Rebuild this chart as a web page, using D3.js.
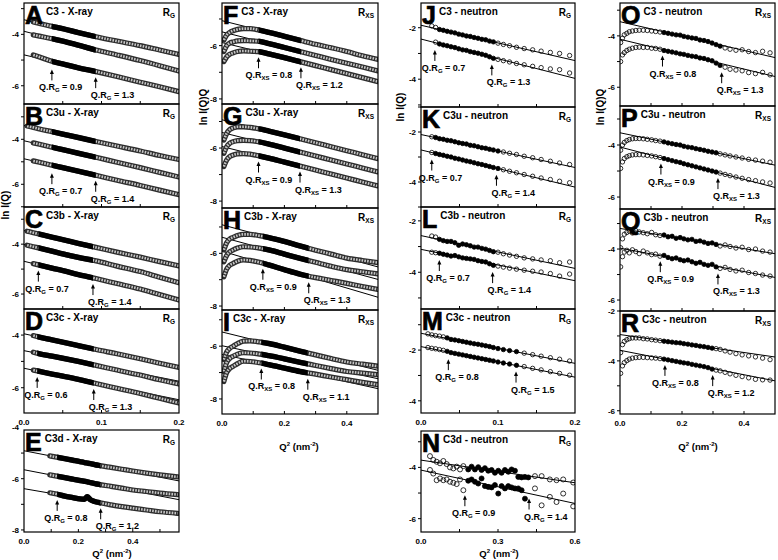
<!DOCTYPE html>
<html><head><meta charset="utf-8">
<script src="https://cdn.jsdelivr.net/npm/d3@7"></script>
<style>
body{margin:0;background:#fff;}
svg{display:block;font-family:"Liberation Sans",Arial,sans-serif;font-weight:bold;}
</style></head><body>
<svg id="chart" width="778" height="560"></svg>
<script>
// ---------------- DATA ----------------
const panelIds = ["A","B","C","D","E","F","G","H","I","J","K","L","M","N","O","P","Q","R"];
const panelTitles = ["C3 - X-ray","C3u - X-ray","C3b - X-ray","C3c - X-ray","C3d - X-ray",
  "C3 - X-ray","C3u - X-ray","C3b - X-ray","C3c - X-ray",
  "C3 - neutron","C3u - neutron","C3b - neutron","C3c - neutron","C3d - neutron",
  "C3 - neutron","C3u - neutron","C3b - neutron","C3c - neutron"];
const panelRadius = ["G","G","G","G","G","XS","XS","XS","XS","G","G","G","G","G","XS","XS","XS","XS"];
const qrLow  = ["0.9","0.7","0.7","0.6","0.8","0.8","0.9","0.9","0.8","0.7","0.7","0.7","0.8","0.9","0.8","0.9","0.9","0.8"];
const qrHigh = ["1.3","1.4","1.4","1.3","1.2","1.2","1.3","1.3","1.1","1.3","1.4","1.4","1.5","1.4","1.3","1.3","1.3","1.2"];
const arrowLow  = [0.036,0.036,0.0185,0.017,0.122, 0.117,0.117,0.131,0.126, 0.018,0.014,0.0238,0.0355,0.171, 0.137,0.132,0.13,0.145];
const arrowHigh = [0.0925,0.0925,0.089,0.09,0.282, 0.253,0.25,0.278,0.275, 0.092,0.098,0.093,0.1234,0.421, 0.328,0.316,0.316,0.299];
const fitLow  = [0.036,0.036,0.0185,0.017,0.122, 0.117,0.117,0.131,0.126, 0.022,0.018,0.022,0.033,0.175, 0.135,0.13,0.13,0.14];
const fitHigh = [0.0925,0.0925,0.089,0.09,0.282, 0.253,0.25,0.278,0.275, 0.095,0.1,0.095,0.125,0.42, 0.33,0.32,0.32,0.30];

// Q^2 grids (nm^-2)
const qRG = [0.004,0.012,0.02,0.036,0.05,0.07,0.093,0.12,0.15,0.175,0.2];
const qE  = [0.095,0.12,0.15,0.18,0.205,0.222,0.233,0.244,0.26,0.28,0.32,0.36,0.4,0.45,0.5,0.565];
const qXS = [0.006,0.015,0.025,0.036,0.05,0.069,0.09,0.12,0.15,0.2,0.25,0.3,0.35,0.4,0.45,0.5];
const qN1 = [0.009,0.014,0.019,0.024,0.029,0.034,0.039,0.044,0.049,0.054,0.059,0.064,0.069,0.074,0.079,0.084,0.089,0.094,0.100,0.107,0.115,0.124,0.134,0.145,0.156,0.168,0.180,0.193];
const qN2 = [0.035,0.048,0.061,0.074,0.087,0.100,0.113,0.126,0.139,0.152,0.165,0.184,0.197,0.210,0.223,0.236,0.249,0.262,0.275,0.288,0.301,0.314,0.327,0.340,0.353,0.366,0.379,0.392,0.405,0.418,0.444,0.470,0.502,0.528,0.554,0.593];
const qN3 = [0.002,0.008,0.014,0.022,0.030,0.040,0.051,0.062,0.075,0.088,0.102,0.115,0.129,0.142,0.155,0.168,0.181,0.194,0.206,0.219,0.232,0.245,0.258,0.271,0.284,0.297,0.310,0.323,0.339,0.355,0.374,0.394,0.415,0.437,0.460,0.484];

// ln I(Q) or ln I(Q)Q values
const seriesA = [
  [null,-3.52,-3.58,-3.69,-3.78,-3.93,-4.09,-4.26,-4.44,-4.61,-4.78],
  [null,-4.02,-4.07,-4.17,-4.26,-4.42,-4.61,-4.8,-5.02,-5.22,-5.43],
  [null,-4.8,-4.88,-5.05,-5.15,-5.3,-5.45,-5.64,-5.86,-6.04,-6.23]];
const seriesB = [
  [-3.41,-3.47,-3.54,-3.66,-3.77,-3.92,-4.1,-4.3,-4.52,-4.72,-4.9],
  [null,-4.16,-4.22,-4.35,-4.46,-4.62,-4.8,-5.02,-5.26,-5.47,-5.68],
  [null,-4.96,-5.02,-5.15,-5.26,-5.42,-5.6,-5.82,-6.05,-6.26,-6.46]];
const seriesC = [
  [-3.48,-3.54,-3.6,-3.72,-3.82,-3.97,-4.13,-4.32,-4.52,-4.7,-4.87],
  [-4.04,-4.1,-4.16,-4.28,-4.39,-4.53,-4.67,-4.88,-5.1,-5.33,-5.55],
  [null,-4.78,-4.84,-4.96,-5.06,-5.22,-5.38,-5.58,-5.8,-6.02,-6.24]];
const seriesD = [
  [null,-4.02,-4.08,-4.18,-4.27,-4.4,-4.55,-4.71,-4.9,-5.07,-5.23],
  [null,-4.65,-4.71,-4.8,-4.88,-5.0,-5.15,-5.33,-5.52,-5.7,-5.86],
  [null,-5.33,-5.38,-5.48,-5.56,-5.68,-5.84,-6.02,-6.22,-6.4,-6.58]];
const seriesE = [
  [-5.11,-5.16,-5.22,-5.28,-5.33,-5.37,-5.39,-5.41,-5.45,-5.49,-5.56,-5.63,-5.7,-5.78,-5.85,-5.93],
  [-5.85,-5.9,-5.96,-6.02,-6.07,-6.1,-6.12,-6.15,-6.19,-6.23,-6.3,-6.37,-6.44,-6.5,-6.56,-6.62],
  [-6.55,-6.6,-6.68,-6.74,-6.79,-6.8,-6.7,-6.82,-6.89,-6.94,-7.02,-7.09,-7.15,-7.22,-7.29,-7.35]];
const seriesF = [
  [-5.79,-5.6,-5.5,-5.44,-5.39,-5.36,-5.36,-5.42,-5.5,-5.65,-5.8,-5.95,-6.08,-6.22,-6.38,-6.52],
  [-6.22,-6.0,-5.9,-5.86,-5.82,-5.81,-5.82,-5.84,-5.92,-6.07,-6.22,-6.37,-6.52,-6.66,-6.8,-6.95],
  [-6.6,-6.42,-6.32,-6.27,-6.22,-6.2,-6.21,-6.23,-6.31,-6.45,-6.6,-6.75,-6.9,-7.05,-7.2,-7.35]];
const seriesG = [
  [-5.7,-5.45,-5.3,-5.24,-5.2,-5.2,-5.22,-5.28,-5.36,-5.5,-5.65,-5.8,-5.95,-6.1,-6.25,-6.4],
  [-6.2,-5.95,-5.82,-5.76,-5.72,-5.71,-5.72,-5.77,-5.85,-6.0,-6.15,-6.3,-6.45,-6.6,-6.75,-6.9],
  [-6.7,-6.45,-6.32,-6.26,-6.22,-6.21,-6.23,-6.3,-6.38,-6.53,-6.68,-6.83,-6.98,-7.13,-7.28,-7.43]];
const seriesH = [
  [-5.87,-5.6,-5.45,-5.39,-5.32,-5.28,-5.28,-5.33,-5.4,-5.55,-5.72,-5.88,-6.03,-6.18,-6.27,-6.35],
  [-6.32,-6.08,-5.94,-5.87,-5.8,-5.75,-5.76,-5.8,-5.87,-6.03,-6.19,-6.34,-6.49,-6.62,-6.7,-6.78],
  [-6.89,-6.6,-6.45,-6.38,-6.3,-6.25,-6.27,-6.34,-6.44,-6.62,-6.79,-6.92,-7.03,-7.14,-7.26,-7.37]];
const seriesI = [
  [-6.51,-6.22,-6.08,-6.0,-5.9,-5.81,-5.8,-5.84,-5.9,-6.04,-6.19,-6.33,-6.47,-6.6,-6.68,-6.76],
  [-6.96,-6.62,-6.46,-6.38,-6.3,-6.25,-6.26,-6.3,-6.36,-6.48,-6.61,-6.73,-6.85,-6.96,-7.02,-7.08],
  [-7.34,-7.0,-6.84,-6.76,-6.66,-6.57,-6.58,-6.63,-6.7,-6.83,-6.96,-7.06,-7.17,-7.27,-7.37,-7.46]];
const seriesJ = [
  [null,-1.93,-1.99,-2.07,-2.1,-2.14,-2.17,-2.2,-2.25,-2.28,-2.32,-2.34,-2.38,-2.41,-2.45,-2.47,-2.52,-2.55,-2.6,-2.65,-2.7,-2.76,-2.81,-2.86,-2.91,-2.96,-3.0,-3.08],
  [null,null,-2.56,-2.63,-2.67,-2.7,-2.74,-2.77,-2.82,-2.86,-2.88,-2.93,-2.96,-2.99,-3.03,-3.07,-3.13,-3.19,-3.23,-3.28,-3.33,-3.39,-3.44,-3.5,-3.55,-3.6,-3.63,-3.76]];
const seriesK = [
  [null,-2.19,-2.22,-2.27,-2.29,-2.33,-2.35,-2.39,-2.43,-2.46,-2.48,-2.53,-2.55,-2.59,-2.63,-2.65,-2.69,-2.72,-2.76,-2.8,-2.85,-2.9,-2.97,-3.03,-3.1,-3.17,-3.24,-3.3],
  [null,-2.82,-2.86,-2.9,-2.93,-2.97,-3.0,-3.05,-3.08,-3.12,-3.16,-3.19,-3.23,-3.27,-3.3,-3.34,-3.38,-3.42,-3.46,-3.51,-3.57,-3.63,-3.7,-3.77,-3.84,-3.9,-3.97,-4.03]];
const seriesL = [
  [null,-2.59,-2.63,-2.72,-2.77,-2.8,-2.8,-2.85,-2.95,-2.9,-2.93,-2.97,-3.02,-3.02,-3.07,-3.1,-3.15,-3.2,-3.22,-3.28,-3.33,-3.38,-3.44,-3.48,-3.52,-3.55,-3.63,-3.6],
  [null,-3.22,-3.24,-3.26,-3.3,-3.33,-3.37,-3.35,-3.4,-3.44,-3.46,-3.48,-3.5,-3.55,-3.58,-3.6,-3.67,-3.73,-3.76,-3.8,-3.84,-3.88,-3.92,-3.96,-3.99,-4.05,-4.15,-4.07]];
const seriesM = [
  [-1.36,-1.4,-1.43,-1.45,-1.48,-1.52,-1.58,-1.6,-1.63,-1.66,-1.69,-1.72,-1.75,-1.77,-1.8,-1.83,-1.86,-1.9,-1.94,-1.98,-2.02,-2.06,-2.12,-2.18,-2.24,-2.3,-2.36,-2.43],
  [-1.9,-1.93,-1.95,-1.98,-2.01,-2.05,-2.1,-2.13,-2.16,-2.19,-2.22,-2.25,-2.28,-2.31,-2.34,-2.37,-2.4,-2.43,-2.47,-2.51,-2.55,-2.6,-2.65,-2.72,-2.78,-2.85,-2.92,-2.99]];
const seriesN = [
  [-3.56,-3.71,-3.78,-3.84,-3.75,-3.87,-4.0,-4.04,-3.97,-4.08,-3.95,-4.08,-3.97,-4.08,-3.99,-4.1,-4.03,-4.13,-4.1,-4.21,-4.13,-4.21,-4.1,-4.17,-4.08,-4.13,-4.37,-4.39,-4.37,-4.39,-4.34,-4.34,-4.47,-4.5,-4.47,-4.59],
  [-4.1,-4.24,-4.5,-4.43,-4.5,-4.47,-4.56,-4.6,-4.65,-4.47,-4.89,-4.52,-4.47,-4.56,-4.63,-4.43,-4.73,-4.76,-4.78,-4.69,-5.02,-4.73,-4.82,-4.73,-4.78,-4.82,-4.82,-4.89,-5.22,null,-4.82,-5.48,-5.15,-5.35,-5.02,-5.52]];
const seriesO = [
  [-4.26,-4.09,-3.96,-3.9,-3.84,-3.81,-3.79,-3.78,-3.78,-3.79,-3.81,-3.83,-3.85,-3.87,-3.9,-3.93,-3.96,-3.97,-4.02,-4.05,-4.08,-4.1,-4.16,-4.18,-4.22,-4.28,-4.34,-4.4,-4.47,-4.52,-4.56,-4.54,-4.61,-4.65,-4.6,-4.66],
  [-5.0,-4.74,-4.65,-4.57,-4.52,-4.48,-4.45,-4.44,-4.45,-4.45,-4.48,-4.49,-4.52,-4.57,-4.6,-4.63,-4.66,-4.7,-4.72,-4.76,-4.79,-4.81,-4.86,-4.88,-4.93,-4.97,-5.06,-5.15,-5.22,-5.3,-5.33,-5.36,-5.43,-5.47,-5.42,-5.52]];
const seriesP = [
  [-4.2,-4.0,-3.9,-3.83,-3.79,-3.76,-3.75,-3.75,-3.76,-3.78,-3.8,-3.83,-3.85,-3.88,-3.92,-3.95,-3.98,-4.0,-4.05,-4.08,-4.1,-4.14,-4.17,-4.2,-4.24,-4.27,-4.3,-4.34,-4.38,-4.42,-4.46,-4.5,-4.55,-4.58,-4.62,-4.66],
  [-4.9,-4.65,-4.52,-4.45,-4.41,-4.38,-4.37,-4.37,-4.38,-4.4,-4.42,-4.45,-4.48,-4.52,-4.56,-4.6,-4.64,-4.67,-4.72,-4.76,-4.8,-4.84,-4.88,-4.92,-4.96,-5.0,-5.04,-5.08,-5.13,-5.18,-5.23,-5.28,-5.33,-5.37,-5.42,-5.46]];
const seriesQ = [
  [-3.95,-3.6,-3.42,-3.35,-3.3,-3.37,-3.28,-3.33,-3.36,-3.4,-3.35,-3.44,-3.47,-3.45,-3.52,-3.5,-3.58,-3.55,-3.6,-3.64,-3.62,-3.7,-3.68,-3.73,-3.78,-3.76,-3.82,-3.88,-3.84,-3.9,-3.96,-3.93,-4.02,-4.0,-4.08,-4.12],
  [-4.7,-4.3,-4.12,-4.05,-4.15,-4.03,-4.1,-4.18,-4.08,-4.15,-4.22,-4.2,-4.28,-4.25,-4.33,-4.38,-4.35,-4.42,-4.46,-4.43,-4.5,-4.56,-4.52,-4.6,-4.64,-4.6,-4.7,-4.76,-4.72,-4.8,-4.86,-4.83,-4.92,-4.96,-5.02,-5.06]];
const seriesR = [
  [-3.67,-3.35,-3.22,-3.15,-3.11,-3.08,-3.08,-3.08,-3.11,-3.12,-3.15,-3.17,-3.19,-3.21,-3.23,-3.25,-3.27,-3.28,-3.31,-3.33,-3.36,-3.38,-3.41,-3.43,-3.46,-3.49,-3.51,-3.54,-3.6,-3.65,-3.71,-3.76,-3.8,-3.84,-3.89,-3.95],
  [-4.5,-4.2,-4.07,-3.99,-3.93,-3.89,-3.87,-3.86,-3.86,-3.87,-3.88,-3.89,-3.91,-3.93,-3.96,-3.99,-4.02,-4.05,-4.08,-4.1,-4.14,-4.17,-4.2,-4.23,-4.27,-4.33,-4.37,-4.4,-4.46,-4.52,-4.58,-4.63,-4.68,-4.74,-4.76,-4.77]];

const panelGrid = [qRG,qRG,qRG,qRG,qE, qXS,qXS,qXS,qXS, qN1,qN1,qN1,qN1,qN2, qN3,qN3,qN3,qN3];
const panelCurves = [seriesA,seriesB,seriesC,seriesD,seriesE,seriesF,seriesG,seriesH,seriesI,
  seriesJ,seriesK,seriesL,seriesM,seriesN,seriesO,seriesP,seriesQ,seriesR];
const panelKind = ["x","x","x","x","x","x","x","x","x","n","n","n","n","n","n","n","n","n"];

// ---------------- LAYOUT ----------------
const cols = [[24,179],[222,378],[421,575],[620,775]];
const layout = {
 A:{c:0,t:3,b:104,y:[-6.71,-2.78],x:[0,0.2],xt:0.05},
 B:{c:0,t:104,b:207,y:[-7.01,-2.43],x:[0,0.2],xt:0.05},
 C:{c:0,t:207,b:309,y:[-6.6,-2.51],x:[0,0.2],xt:0.05},
 D:{c:0,t:309,b:413,y:[-6.96,-3.01],x:[0,0.2],xt:0.05,xl:[0,0.1,0.2]},
 E:{c:0,t:430,b:532,y:[-8.08,-4.1],x:[0,0.57],xt:0.1,xl:[0,0.2,0.4],xtY:557,xtX:112},
 F:{c:1,t:3,b:104,y:[-8.19,-4.4],x:[0,0.5],xt:0.1},
 G:{c:1,t:104,b:208,y:[-8.26,-4.34],x:[0,0.5],xt:0.1},
 H:{c:1,t:208,b:310,y:[-8.15,-4.28],x:[0,0.5],xt:0.1},
 I:{c:1,t:310,b:414,y:[-8.57,-4.63],x:[0,0.5],xt:0.1,xl:[0,0.2,0.4],xtY:450,xtX:299},
 J:{c:2,t:3,b:107,y:[-5.08,-1.04],x:[0,0.2],xt:0.05},
 K:{c:2,t:107,b:207,y:[-5,-1],x:[0,0.2],xt:0.05},
 L:{c:2,t:207,b:309,y:[-5.43,-1.46],x:[0,0.2],xt:0.05},
 M:{c:2,t:309,b:413,y:[-4.48,-0.38],x:[0,0.2],xt:0.05,xl:[0,0.1,0.2]},
 N:{c:2,t:431,b:532,y:[-6.52,-2.58],x:[0,0.6],xt:0.15,xl:[0,0.3,0.6],xtY:557,xtX:499},
 O:{c:3,t:3,b:106,y:[-6.73,-2.72],x:[0,0.5],xt:0.1},
 P:{c:3,t:106,b:209,y:[-6.46,-2.5],x:[0,0.5],xt:0.1},
 Q:{c:3,t:209,b:311,y:[-6.43,-2.43],x:[0,0.5],xt:0.1},
 R:{c:3,t:311,b:414,y:[-6.13,-2.0],x:[0,0.5],xt:0.1,xl:[0,0.2,0.4],xtY:450,xtX:698}
};
const yTitles = [
 {x:9,y:205,t:"ln I(Q)"},{x:207,y:107,t:"ln I(Q)Q"},{x:404,y:107,t:"ln I(Q)"},{x:604,y:107,t:"ln I(Q)Q"}];

// ---------------- DRAW ----------------
const svg = d3.select("#chart");
const defs = svg.append("defs");
function regress(pts){
  const mx=d3.mean(pts,p=>p[0]), my=d3.mean(pts,p=>p[1]);
  let sxy=0,sxx=0; pts.forEach(p=>{sxy+=(p[0]-mx)*(p[1]-my); sxx+=(p[0]-mx)*(p[0]-mx);});
  const s=sxy/sxx; return [my-s*mx,s];
}
function fmt(v){return v===0?"0.0":d3.format(".1f")(v);}

panelIds.forEach((id,k)=>{
  const L=layout[id], cx=cols[L.c];
  const x=d3.scaleLinear().domain(L.x).range(cx);
  const y=d3.scaleLinear().domain(L.y).range([L.b,L.t]);
  const g=svg.append("g");
  defs.append("clipPath").attr("id","cp"+id).append("rect")
    .attr("x",cx[0]).attr("y",L.t).attr("width",cx[1]-cx[0]).attr("height",L.b-L.t);
  const plot=g.append("g").attr("clip-path","url(#cp"+id+")");
  const grid=panelGrid[k], band=panelKind[k]==="x";
  const lo=fitLow[k], hi=fitHigh[k];
  const fits=panelCurves[k].map(vals=>{
    const pts=grid.map((q,i)=>[q,vals[i]]).filter(p=>p[1]!=null);
    const fp=pts.filter(p=>p[0]>=lo-0.002&&p[0]<=hi+0.002);
    const [b0,b1]=regress(fp);
    return {pts,b0,b1};
  });
  fits.forEach(f=>{
    plot.append("line").attr("x1",x(L.x[0])).attr("x2",x(L.x[1]))
      .attr("y1",y(f.b0+f.b1*L.x[0])).attr("y2",y(f.b0+f.b1*L.x[1]))
      .attr("stroke","#000").attr("stroke-width",1);
  });
  if(band){
    defs.append("clipPath").attr("id","fr"+id).append("rect")
      .attr("x",x(lo)).attr("y",L.t).attr("width",x(hi)-x(lo)).attr("height",L.b-L.t);
    const line=d3.line().x(p=>x(p[0])).y(p=>y(p[1])).curve(d3.curveMonotoneX);
    fits.forEach(f=>{
      const d=line(f.pts);
      plot.append("path").attr("d",d).attr("fill","none").attr("stroke","#2e2e2e").attr("stroke-width",5.2).attr("stroke-linecap","round");
      plot.append("path").attr("d",d).attr("fill","none").attr("stroke","#c6c6c6").attr("stroke-width",2.6).attr("stroke-dasharray","1.6 1.2");
      plot.append("g").attr("clip-path","url(#fr"+id+")").append("path").attr("d",d)
        .attr("fill","none").attr("stroke","#000").attr("stroke-width",5.4);
    });
  } else {
    const r = id==="N"?2.5:2.2;
    fits.forEach(f=>{
      plot.selectAll(null).data(f.pts).join("circle")
        .attr("cx",p=>x(p[0])).attr("cy",p=>y(p[1])).attr("r",r)
        .attr("fill",p=>(p[0]>=lo-1e-6&&p[0]<=hi+1e-6)?"#000":"none")
        .attr("stroke","#000").attr("stroke-width",0.8);
    });
  }
  // y ticks
  for(let v=-10; v<=0; v++){
    if(v>=L.y[0]&&v<=L.y[1]) g.append("line").attr("x1",cx[0]-3).attr("x2",cx[0]).attr("y1",y(v)).attr("y2",y(v)).attr("stroke","#000");
    if(v%2===0 && v>=L.y[0]-0.15 && v<=L.y[1]+0.15)
      g.append("text").attr("x",cx[0]-5).attr("y",y(v)+3).attr("text-anchor","end").attr("font-size",8).text(v);
  }
  // x ticks (inward)
  for(let v=L.xt; v<L.x[1]-1e-6; v+=L.xt){
    g.append("line").attr("x1",x(v)).attr("x2",x(v)).attr("y1",L.b).attr("y2",L.b-3).attr("stroke","#000");
  }
  if(L.xl){
    L.xl.forEach(v=>g.append("text").attr("x",x(v)).attr("y",L.b+12).attr("text-anchor","middle").attr("font-size",8).text(fmt(v)));
  }
  if(L.xtY){
    const t=g.append("text").attr("x",L.xtX).attr("y",L.xtY).attr("text-anchor","middle").attr("font-size",9.5);
    t.append("tspan").text("Q");
    t.append("tspan").attr("font-size",6).attr("dy",-4).text("2");
    t.append("tspan").attr("dy",4).text(" (nm");
    t.append("tspan").attr("font-size",6).attr("dy",-4).text("-2");
    t.append("tspan").attr("dy",4).text(")");
  }
  // frame
  g.append("rect").attr("x",cx[0]).attr("y",L.t).attr("width",cx[1]-cx[0]).attr("height",L.b-L.t)
    .attr("fill","none").attr("stroke","#000").attr("stroke-width",1.2);
  // letter, title, tag
  const letter=g.append("text").attr("x",cx[0]+1).attr("y",L.t+21).attr("font-size",25)
    .attr("stroke","#000").attr("stroke-width",0.7).text(id);
  const lw=letter.node().getComputedTextLength();
  g.append("text").attr("x",cx[0]+2+lw+2).attr("y",L.t+12).attr("font-size",10).text(panelTitles[k]);
  const tag=g.append("text").attr("x",cx[1]-4).attr("y",L.t+13).attr("text-anchor","end").attr("font-size",10);
  tag.append("tspan").text("R");
  tag.append("tspan").attr("font-size",6.5).attr("dy",2).text(panelRadius[k]);
  // arrows + labels
  const bot=fits[fits.length-1];
  [[arrowLow[k],qrLow[k],-13],[arrowHigh[k],qrHigh[k],-5]].forEach(([aq,val,dx])=>{
    const ax=x(aq);
    let py=y(bot.b0+bot.b1*aq);
    bot.pts.forEach(p=>{ if(Math.abs(p[0]-aq)<0.015) py=Math.max(py,y(p[1])); });
    const tip=py+(band?5.5:5), base=tip+11;
    g.append("line").attr("x1",ax).attr("x2",ax).attr("y1",tip+3).attr("y2",base).attr("stroke","#000").attr("stroke-width",1);
    g.append("path").attr("d",`M${ax},${tip}L${ax-2},${tip+4.5}L${ax+2},${tip+4.5}Z`).attr("fill","#000");
    const t=g.append("text").attr("x",ax+dx).attr("y",base+10).attr("font-size",9);
    t.append("tspan").text("Q.R");
    t.append("tspan").attr("font-size",6).attr("dy",2).text(panelRadius[k]);
    t.append("tspan").attr("dy",-2).text(" = "+val);
  });
});
yTitles.forEach(d=>{
  svg.append("text").attr("transform",`translate(${d.x},${d.y}) rotate(-90)`).attr("text-anchor","middle")
    .attr("font-size",10).text(d.t);
});
</script></body></html>
